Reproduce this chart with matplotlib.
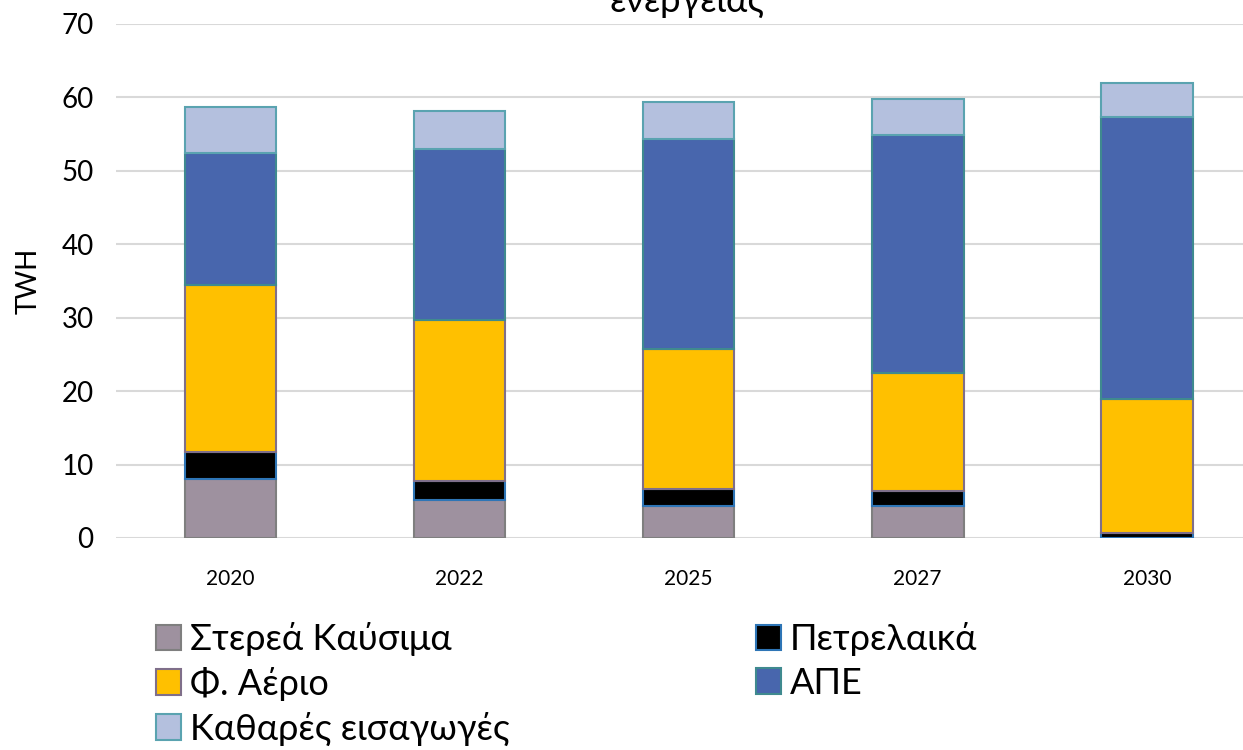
"""Stacked bar chart: gross energy consumption by source (TWH)."""

import matplotlib

matplotlib.use("Agg")
import matplotlib.pyplot as plt
import numpy as np

plt.rcParams["font.family"] = ["Lato", "DejaVu Sans"]

years = ["2020", "2022", "2025", "2027", "2030"]
solid = [8.0, 5.2, 4.4, 4.4, 0.0]
oil = [3.7, 2.6, 2.3, 2.0, 0.7]
gas = [22.8, 21.9, 19.0, 16.1, 18.2]
res = [17.9, 23.3, 28.6, 32.4, 38.4]
imports = [6.3, 5.2, 5.1, 4.9, 4.7]

series = [
    ("Στερεά Καύσιμα", solid, "#9e919f", "#7f7f7f"),
    ("Πετρελαικά", oil, "#000000", "#2e75b6"),
    ("Φ. Αέριο", gas, "#ffc000", "#7f6f8a"),
    ("ΑΠΕ", res, "#4866ad", "#3f8a8f"),
    ("Καθαρές εισαγωγές", imports, "#b4c0de", "#5aa3b0"),
]

fig = plt.figure(figsize=(12.43, 7.5), dpi=100)
ax = fig.add_axes([0.0933, 0.2827, 0.9067, 0.6853])

x = np.arange(len(years))
bottom = np.zeros(len(years))
handles = []
for label, vals, color, edge in series:
    vals = np.array(vals)
    bars = ax.bar(x, vals, width=0.4, bottom=bottom, color=color,
                  edgecolor=edge, linewidth=1.5, label=label, zorder=3)
    handles.append(bars)
    bottom += vals

ax.set_ylim(0, 70)
ax.set_xlim(-0.5, 4.42)
ax.set_yticks(range(0, 71, 10))
ax.set_xticks(x)
ax.set_xticklabels(years, fontsize=15)
ax.tick_params(axis="y", labelsize=20, length=0, pad=16)
ax.tick_params(axis="x", length=0, pad=22)
ax.grid(True, axis="y", color="#d9d9d9", linewidth=1.5, zorder=0)
for side in ax.spines.values():
    side.set_visible(False)
ax.set_ylabel("TWH", fontsize=20, labelpad=14)

fig.text(0.553, 0.984, "Ακαθάριστη εγχώρια κατανάλωση\nενέργειας", ha="center",
         va="baseline", fontsize=26, linespacing=1.2)

order = [0, 2, 4, 1, 3]
fig.legend([handles[i] for i in order], [series[i][0] for i in order],
           ncol=2, loc="upper left", bbox_to_anchor=(0.114, 0.19),
           frameon=False, fontsize=26, handlelength=0.7, handleheight=0.7,
           handletextpad=0.25, labelspacing=0.3, columnspacing=6.8,
           borderaxespad=0)

fig.savefig("out.png", dpi=100)
